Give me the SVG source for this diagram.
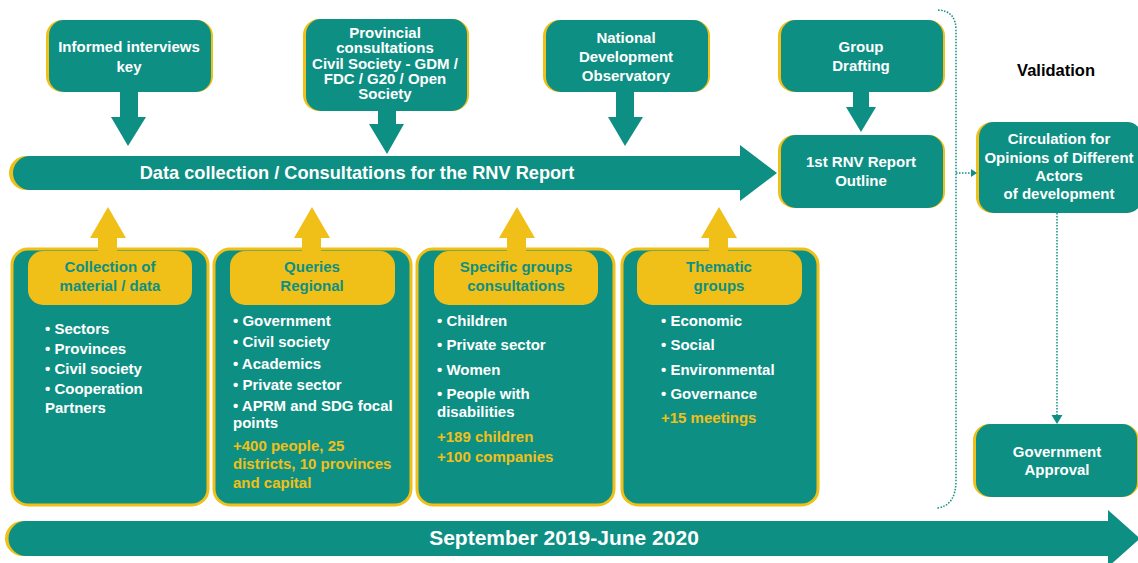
<svg xmlns="http://www.w3.org/2000/svg" width="1138" height="563" viewBox="0 0 1138 563">
  <style>
    text { font-family: "Liberation Sans", Arial, sans-serif; font-weight: bold; }
    .w { fill: #ffffff; font-size: 15px; }
    .wc { fill: #ffffff; font-size: 15px; text-anchor: middle; }
    .hd { fill: #0e8f83; font-size: 15px; text-anchor: middle; }
    .y { fill: #f0c018; font-size: 15px; }
    .teal { fill: #0e8f83; }
    .gold { fill: #f0c018; }
    .card { fill: #0e8f83; stroke: #f0c018; stroke-width: 3; }
    .dot { fill: none; stroke: #0e8f83; stroke-width: 1.5; stroke-dasharray: 1.5 1.5; }
  </style>

  <!-- main process arrow -->
  <g id="data-collection">
    <rect x="9" y="156" width="100" height="34" rx="17" class="gold"/>
    <path class="teal" d="M30 156 H740 V145 L777 173 L740 201 V190 H30 A17 17 0 0 1 30 156 Z"/>
    <text x="357" y="179" fill="#fff" font-size="18.2" text-anchor="middle">Data collection / Consultations for the RNV Report</text>
  </g>

  <!-- timeline arrow -->
  <g id="timeline">
    <rect x="5" y="521" width="100" height="35" rx="17.5" class="gold"/>
    <path class="teal" d="M26 521 H1108 V510 L1140 538.5 L1108 567 V556 H26 A17.5 17.5 0 0 1 26 521 Z"/>
    <text x="564" y="545" fill="#fff" font-size="21" text-anchor="middle">September 2019-June 2020</text>
  </g>

  <!-- top sources -->
  <g id="informed-interviews">
    <rect x="46" y="20" width="167" height="72" rx="16" class="gold"/>
    <rect x="49" y="20" width="162" height="72" rx="15" class="teal"/>
    <text class="wc" x="129" y="52">Informed interviews</text>
    <text class="wc" x="129" y="72">key</text>
  </g>
  <g id="provincial-consultations">
    <rect x="303" y="19" width="166" height="92" rx="16" class="gold"/>
    <rect x="306" y="19" width="161" height="92" rx="15" class="teal"/>
    <text class="wc" x="385" y="38">Provincial</text>
    <text class="wc" x="385" y="53.3">consultations</text>
    <text class="wc" x="385" y="68.6">Civil Society - GDM /</text>
    <text class="wc" x="385" y="83.9">FDC / G20 / Open</text>
    <text class="wc" x="385" y="99.2">Society</text>
  </g>
  <g id="national-observatory">
    <rect x="543" y="20" width="167" height="72" rx="16" class="gold"/>
    <rect x="546" y="20" width="162" height="72" rx="15" class="teal"/>
    <text class="wc" x="626" y="43">National</text>
    <text class="wc" x="626" y="62">Development</text>
    <text class="wc" x="626" y="81">Observatory</text>
  </g>
  <g id="group-drafting">
    <rect x="778" y="20" width="167" height="72" rx="16" class="gold"/>
    <rect x="781" y="20" width="162" height="72" rx="15" class="teal"/>
    <text class="wc" x="861" y="52">Group</text>
    <text class="wc" x="861" y="71">Drafting</text>
  </g>
  <g id="report-outline">
    <rect x="778" y="135" width="167" height="73" rx="16" class="gold"/>
    <rect x="781" y="135" width="162" height="73" rx="15" class="teal"/>
    <text class="wc" x="861" y="167">1st RNV Report</text>
    <text class="wc" x="861" y="186">Outline</text>
  </g>

  <!-- validation column -->
  <text id="validation-title" x="1056" y="76" fill="#000" font-size="16.5" text-anchor="middle">Validation</text>
  <g id="circulation">
    <rect x="976" y="122" width="166" height="91" rx="16" class="gold"/>
    <rect x="979" y="122" width="163" height="91" rx="15" class="teal"/>
    <text class="wc" x="1059" y="144">Circulation for</text>
    <text class="wc" x="1059" y="163">Opinions of Different</text>
    <text class="wc" x="1059" y="181">Actors</text>
    <text class="wc" x="1059" y="199">of development</text>
  </g>
  <g id="government-approval">
    <rect x="973" y="424" width="166" height="73" rx="16" class="gold"/>
    <rect x="976" y="424" width="161" height="73" rx="15" class="teal"/>
    <text class="wc" x="1057" y="457">Government</text>
    <text class="wc" x="1057" y="475">Approval</text>
  </g>

  <!-- bottom input cards -->
  <g id="collection-material">
    <rect x="12" y="249" width="196" height="256" rx="16" class="card"/>
    <rect x="28" y="251" width="164" height="54" rx="15" class="gold"/>
    <text class="hd" x="110" y="272">Collection of</text>
    <text class="hd" x="110" y="291">material / data</text>
    <text class="w" x="45" y="334">• Sectors</text>
    <text class="w" x="45" y="354">• Provinces</text>
    <text class="w" x="45" y="374">• Civil society</text>
    <text class="w" x="45" y="394">• Cooperation</text>
    <text class="w" x="45" y="413">Partners</text>
  </g>
  <g id="regional-queries">
    <rect x="214" y="249" width="197" height="256" rx="16" class="card"/>
    <rect x="230" y="251" width="165" height="54" rx="15" class="gold"/>
    <text class="hd" x="312" y="272">Queries</text>
    <text class="hd" x="312" y="291">Regional</text>
    <text class="w" x="233" y="326">• Government</text>
    <text class="w" x="233" y="347">• Civil society</text>
    <text class="w" x="233" y="369">• Academics</text>
    <text class="w" x="233" y="390">• Private sector</text>
    <text class="w" x="233" y="411">• APRM and SDG focal</text>
    <text class="w" x="233" y="428">points</text>
    <text class="y" x="233" y="451">+400 people, 25</text>
    <text class="y" x="233" y="469">districts, 10 provinces</text>
    <text class="y" x="233" y="488">and capital</text>
  </g>
  <g id="specific-groups">
    <rect x="417" y="249" width="197" height="256" rx="16" class="card"/>
    <rect x="434" y="251" width="164" height="54" rx="15" class="gold"/>
    <text class="hd" x="516" y="272">Specific groups</text>
    <text class="hd" x="516" y="291">consultations</text>
    <text class="w" x="437" y="326">• Children</text>
    <text class="w" x="437" y="350">• Private sector</text>
    <text class="w" x="437" y="375">• Women</text>
    <text class="w" x="437" y="399">• People with</text>
    <text class="w" x="437" y="417">disabilities</text>
    <text class="y" x="437" y="442">+189 children</text>
    <text class="y" x="437" y="462">+100 companies</text>
  </g>
  <g id="thematic-groups">
    <rect x="622" y="249" width="196" height="256" rx="16" class="card"/>
    <rect x="637" y="251" width="165" height="54" rx="15" class="gold"/>
    <text class="hd" x="719" y="272">Thematic</text>
    <text class="hd" x="719" y="291">groups</text>
    <text class="w" x="661" y="326">• Economic</text>
    <text class="w" x="661" y="350">• Social</text>
    <text class="w" x="661" y="375">• Environmental</text>
    <text class="w" x="661" y="399">• Governance</text>
    <text class="y" x="661" y="423">+15 meetings</text>
  </g>

  <!-- connectors -->
  <g id="connectors">
    <!-- block arrows from top sources into the main arrow -->
    <path class="teal" d="M120 92 H138 V117 H146 L128 146 L111 117 H120 Z"/>
    <path class="teal" d="M378 111 H396 V124 H404 L387 154 L369 124 H378 Z"/>
    <path class="teal" d="M616 92 H634 V117 H643 L625 146 L608 117 H616 Z"/>
    <path class="teal" d="M853 92 H869 V107 H876 L861 132 L846 107 H853 Z"/>
    <!-- block arrows from the cards up to the main arrow -->
    <path class="gold" d="M98 252 V238 H90 L108 207 L126 238 H117 V252 Z"/>
    <path class="gold" d="M302 252 V238 H294 L312 207 L330 238 H321 V252 Z"/>
    <path class="gold" d="M507 252 V238 H499 L517 207 L535 238 H526 V252 Z"/>
    <path class="gold" d="M709 252 V238 H701 L719 207 L737 238 H728 V252 Z"/>
    <!-- dotted bracket and validation flow -->
    <path class="dot" d="M938 10 Q956 11 956 30 V480 Q956 506 937 508"/>
    <path class="dot" d="M956 173 H971"/>
    <path class="teal" d="M971 169 L977 173 L971 177 Z"/>
    <path class="dot" d="M1057 213 V416"/>
    <path class="teal" d="M1051.5 415 H1062.5 L1057 424 Z"/>
  </g>
</svg>
